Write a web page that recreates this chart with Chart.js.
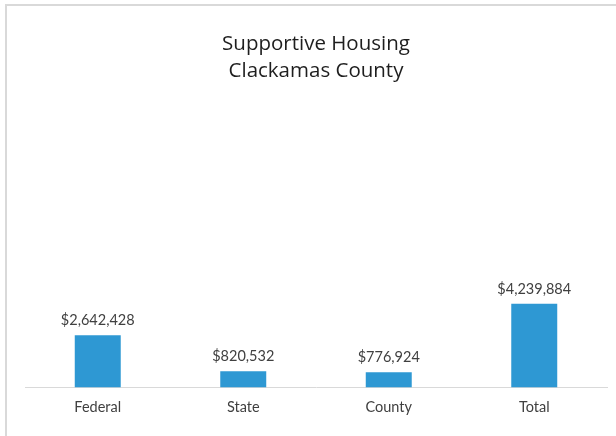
<!DOCTYPE html>
<html>
<head>
<meta charset="utf-8">
<script src="https://cdn.jsdelivr.net/npm/chart.js@4/dist/chart.umd.min.js"></script>
<style>
  html, body { margin: 0; padding: 0; background: #fff; }
  #wrap { position: relative; width: 616px; height: 436px; overflow: hidden; }
  #frame { position: absolute; left: 5px; top: 4px; width: 700px; height: 500px; border-left: 2px solid #d9d9d9; border-top: 2px solid #d9d9d9; box-sizing: border-box; }
  canvas { position: absolute; left: 0; top: 0; }
</style>
</head>
<body>
<div id="wrap">
  <div id="frame"></div>
  <canvas id="chart" width="616" height="436"></canvas>
</div>
<script>
const titleLines = ['Supportive Housing', 'Clackamas County'];
const categories = ['Federal', 'State', 'County', 'Total'];
const amounts = [2642428, 820532, 776924, 4239884];
const yMax = 12000000;

const fmt = v => '$' + v.toLocaleString('en-US');

// value labels above each bar
const barLabels = {
    id: 'barLabels',
    afterDatasetsDraw(chart) {
        const ctx = chart.ctx;
        ctx.save();
        ctx.font = '14.5px Lato';
        ctx.fillStyle = '#404040';
        ctx.textAlign = 'center';
        ctx.textBaseline = 'alphabetic';
        chart.getDatasetMeta(0).data.forEach((bar, i) => {
            ctx.fillText(fmt(amounts[i]), bar.x, bar.y - 10);
        });
        ctx.restore();
    }
};

new Chart(document.getElementById('chart'), {
    type: 'bar',
    data: {
        labels: categories,
        datasets: [{ data: amounts, backgroundColor: '#2e98d3', barPercentage: 0.316, categoryPercentage: 1 }]
    },
    options: {
        responsive: false,
        animation: false,
        layout: { padding: { left: 25, right: 9, top: 0, bottom: 9 } },
        plugins: {
            legend: { display: false },
            tooltip: { enabled: false },
            title: {
                display: true,
                text: titleLines,
                color: '#1e1e1e',
                font: { family: 'Open Sans', size: 20.5, weight: 'normal', lineHeight: 1.3 },
                padding: { top: 31, bottom: 66 }
            }
        },
        scales: {
            x: {
                grid: { display: false, drawTicks: false },
                border: { display: true, color: '#d9d9d9', width: 1 },
                ticks: { color: '#404040', font: { family: 'Lato', size: 14.5 }, padding: 11 }
            },
            y: { display: false, min: 0, max: yMax }
        }
    },
    plugins: [barLabels]
});
</script>
</body>
</html>
